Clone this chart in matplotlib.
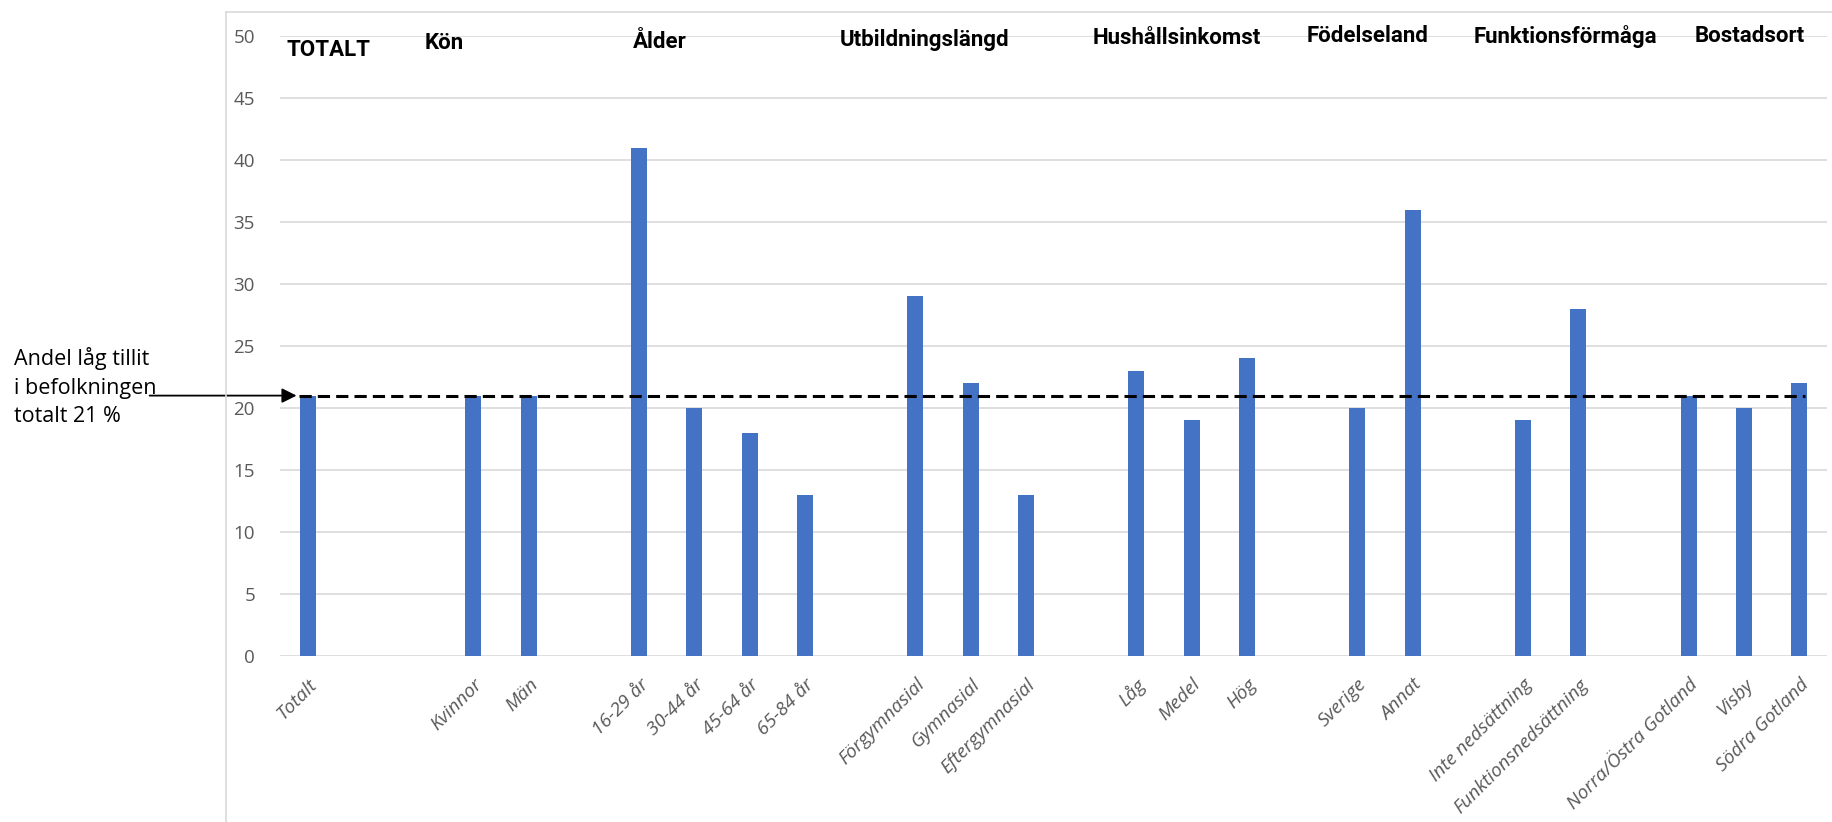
import numpy as np
import matplotlib.pyplot as plt
from matplotlib.lines import Line2D

# andel (%) med låg tillit per grupp; None = tom plats mellan grupperna
labels = ["Totalt", "", "", "Kvinnor", "Män", "",
          "16-29 år", "30-44 år", "45-64 år", "65-84 år", "",
          "Förgymnasial", "Gymnasial", "Eftergymnasial", "",
          "Låg", "Medel", "Hög", "",
          "Sverige", "Annat", "",
          "Inte nedsättning", "Funktionsnedsättning", "",
          "Norra/Östra Gotland", "Visby", "Södra Gotland"]
values = [21, None, None, 21, 21, None,
          41, 20, 18, 13, None,
          29, 22, 13, None,
          23, 19, 24, None,
          20, 36, None,
          19, 28, None,
          21, 20, 22]
total_level = 21

groups = ["TOTALT", "Kön", "Ålder", "Utbildningslängd", "Hushållsinkomst",
          "Födelseland", "Funktionsförmåga", "Bostadsort"]
# rubrikernas placering (x i kategori-enheter, y i procent)
group_x = [-0.38, 2.12, 5.88, 9.64, 14.2, 18.08, 21.1, 25.1]
group_y = [48.9, 49.4, 49.5, 49.7, 49.8, 50.0, 50.0, 50.0]

bar_color = "#4472C4"
grid_color = "#d9d9d9"
tick_color = "#595959"

fig = plt.figure(figsize=(18.32, 8.22), dpi=100)
ax = fig.add_axes([280 / 1832, 1 - 656 / 822, (1827 - 280) / 1832, (656 - 36) / 822])

x = np.arange(len(labels))
heights = [v if v is not None else 0 for v in values]
ax.bar(x, heights, width=0.29, color=bar_color, zorder=3)

ax.set_xlim(-0.5, len(labels) - 0.5)
ax.set_ylim(0, 50)
ax.set_yticks(np.arange(0, 51, 5))
ax.yaxis.grid(True, color=grid_color, linewidth=1.2, zorder=0)
for s in ax.spines.values():
    s.set_visible(False)
ax.tick_params(axis="both", length=0, colors=tick_color, labelsize=13.5)
ax.tick_params(axis="y", pad=18)

ticks = [i for i, l in enumerate(labels) if l]
ax.set_xticks(ticks)
ax.set_xticklabels([labels[i] for i in ticks], rotation=45, ha="right",
                   va="top", rotation_mode="anchor", fontstyle="italic",
                   fontsize=13.8, color=tick_color, family="Open Sans")
ax.tick_params(axis="x", pad=14)
for t in ax.get_yticklabels():
    t.set_family("Open Sans")

# gruppernas rubriker
for name, gx, gy in zip(groups, group_x, group_y):
    ax.text(gx, gy, name, ha="left", va="center", fontsize=16,
            fontweight="bold", family="Roboto", color="black")

# referenslinje för hela befolkningen
ax.plot([-0.15, 27.1], [total_level, total_level], color="black",
        linestyle=(0, (4, 2)), linewidth=2.2, zorder=4)
ax.annotate("", xy=(-0.15, total_level), xytext=(-2.91, total_level),
            arrowprops=dict(arrowstyle="-|>", color="black", lw=1.3,
                            mutation_scale=22),
            annotation_clip=False, zorder=5)
fig.text(14 / 1832, 1 - 387 / 822,
         "Andel låg tillit\ni befolkningen\ntotalt %d %%" % total_level,
         ha="left", va="center", fontsize=15.5, linespacing=1.45,
         family="Open Sans")

# ram runt diagramytan
fig.add_artist(Line2D([226 / 1832, 226 / 1832], [0, 1 - 12 / 822],
                      color=grid_color, linewidth=1.2))
fig.add_artist(Line2D([226 / 1832, 1], [1 - 12 / 822, 1 - 12 / 822],
                      color=grid_color, linewidth=1.2))

fig.savefig("out.png", dpi=100)
